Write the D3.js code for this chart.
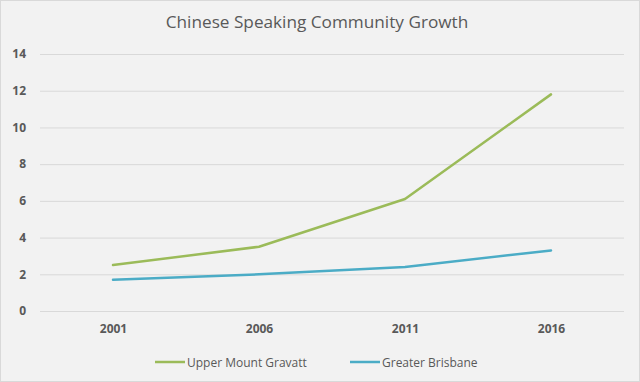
<!DOCTYPE html>
<html><head><meta charset="utf-8">
<script src="https://cdn.jsdelivr.net/npm/d3@7/dist/d3.min.js"></script>
<style>body{margin:0;background:#fff}svg{display:block}</style>
</head><body><svg id="c" width="640" height="382"></svg>
<script>
const title = "Chinese Speaking Community Growth";
const years = ["2001", "2006", "2011", "2016"];
const seriesNames = ["Upper Mount Gravatt", "Greater Brisbane"];
const upperMountGravatt = [2.5, 3.5, 6.1, 11.8];
const greaterBrisbane = [1.7, 2.0, 2.4, 3.3];
const yTicks = [0, 2, 4, 6, 8, 10, 12, 14];
const colors = ["#9bbb59", "#4bacc6"];

const svg = d3.select("#c");
const font = "'Open Sans', 'Noto Sans', sans-serif";
svg.append("rect").attr("x", 0.5).attr("y", 0.5).attr("width", 639).attr("height", 381)
  .attr("fill", "#f2f2f2").attr("stroke", "#d9d9d9");

const m = {left: 40, right: 16, top: 54, bottom: 71};
const W = 640, H = 382;
const x = d3.scalePoint().domain(years).range([m.left, W - m.right]).padding(0.5);
const y = d3.scaleLinear().domain([0, 14]).range([H - m.bottom, m.top]);

svg.append("text").attr("x", 317).attr("y", 28).attr("text-anchor", "middle")
  .attr("font-family", font).attr("font-size", 17.2).attr("fill", "#595959").text(title);

// gridlines
const gy = svg.append("g").attr("transform", `translate(${m.left},0)`)
  .call(d3.axisLeft(y).tickValues(yTicks).tickSize(-(W - m.left - m.right)).tickPadding(14));
gy.select(".domain").remove();
gy.selectAll(".tick line").attr("stroke", "#d9d9d9").attr("stroke-width", 1);
gy.selectAll(".tick text").attr("font-family", font).attr("font-size", 12).attr("font-weight", "bold")
  .attr("fill", "#595959");

const gx = svg.append("g").attr("transform", `translate(0,${H - m.bottom})`)
  .call(d3.axisBottom(x).tickSize(0).tickPadding(13));
gx.select(".domain").remove();
gx.selectAll(".tick text").attr("font-family", font).attr("font-size", 12).attr("font-weight", "bold")
  .attr("fill", "#595959");

const line = d3.line().x((d, i) => x(years[i])).y(d => y(d));
[upperMountGravatt, greaterBrisbane].forEach((s, k) => {
  svg.append("path").attr("d", line(s)).attr("fill", "none").attr("stroke", colors[k])
    .attr("stroke-width", 2.5).attr("stroke-linejoin", "round").attr("stroke-linecap", "round");
});

// legend
const legendX = [155, 350];
const ly = 362;
seriesNames.forEach((n, k) => {
  svg.append("line").attr("x1", legendX[k]).attr("x2", legendX[k] + 30).attr("y1", ly).attr("y2", ly)
    .attr("stroke", colors[k]).attr("stroke-width", 2.5);
  svg.append("text").attr("x", legendX[k] + 32).attr("y", ly + 4.5).attr("font-family", font)
    .attr("font-size", 12).attr("fill", "#595959").text(n);
});
</script></body></html>
